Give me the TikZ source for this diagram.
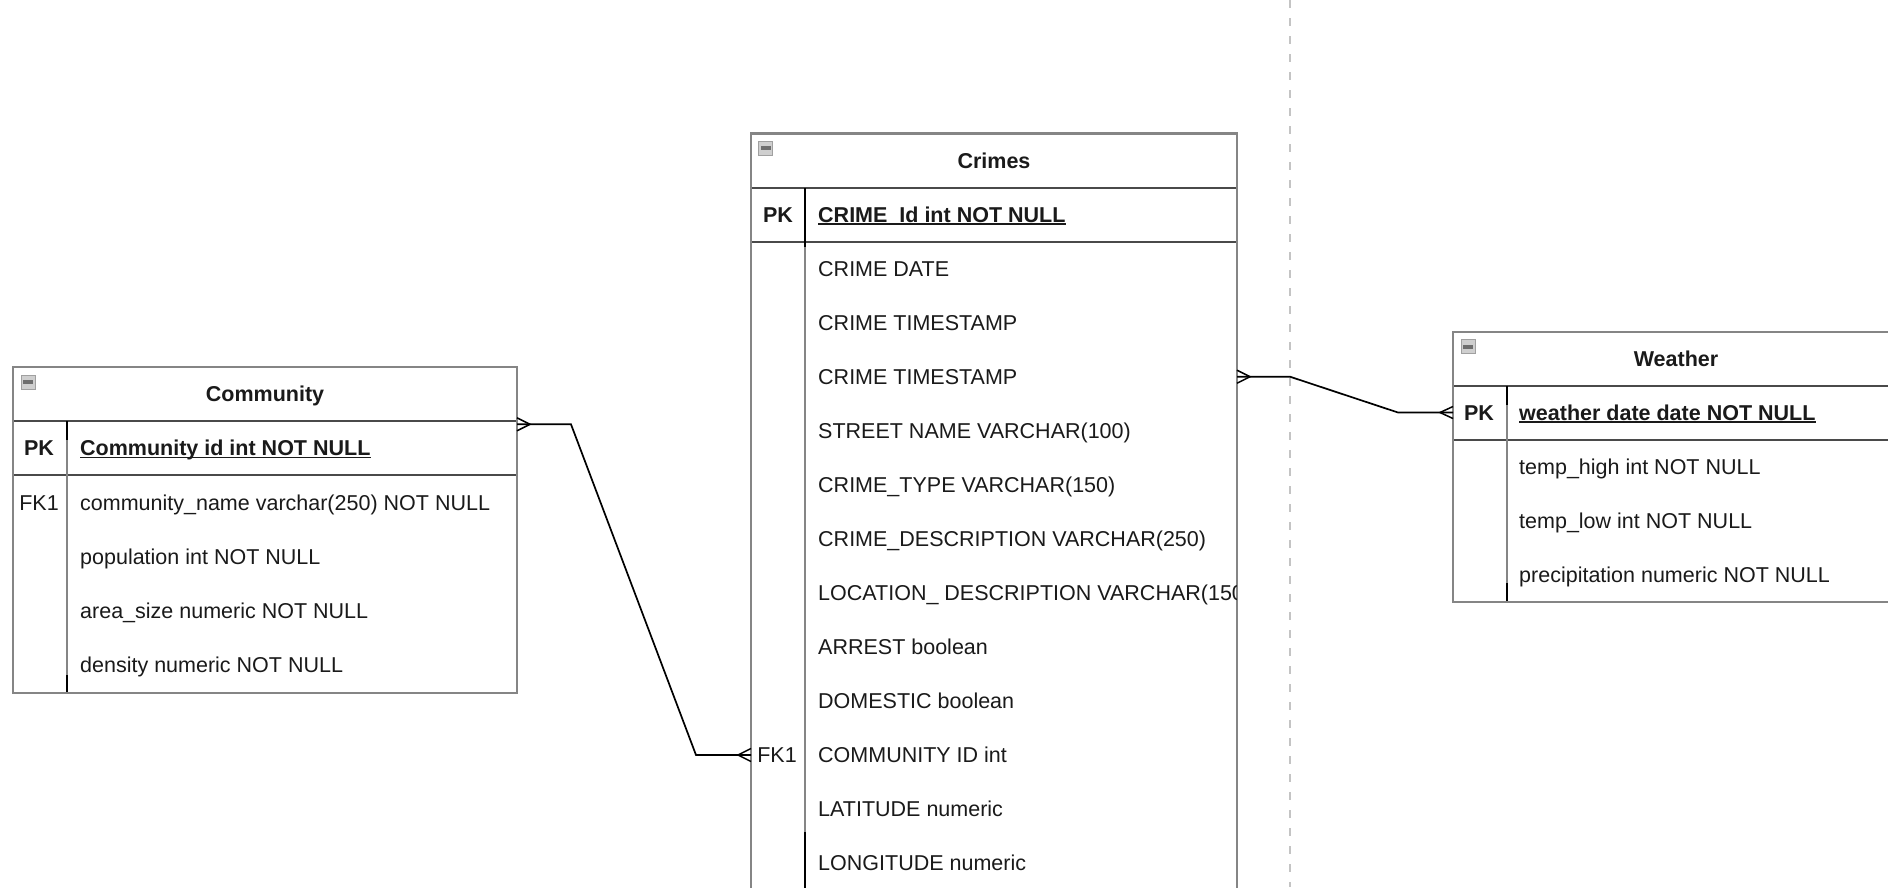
\documentclass[tikz,border=0pt]{standalone}
\usepackage{fontspec}
\setmainfont{Liberation Sans}
\definecolor{bordercol}{HTML}{858585}
\definecolor{linecol}{HTML}{4A4A4A}
\definecolor{txtcol}{HTML}{1A1A1A}
\definecolor{dashcol}{HTML}{C4C4C4}
\definecolor{iconfill}{HTML}{CFCFCF}
\definecolor{iconline}{HTML}{A0A0A0}
\definecolor{iconbar}{HTML}{6E6E6E}
\newcommand\rowfont{\fontsize{21.5}{25.8}\selectfont}
\begin{document}
\begin{tikzpicture}[x=1pt,y=-1pt,
  tblborder/.style={draw=bordercol,line width=2.2},
  tblrule/.style={draw=linecol,line width=2},
  divgray/.style={draw=bordercol,line width=2},
  divblack/.style={draw=black,line width=2},
  rowtxt/.style={inner sep=0,anchor=base west,font=\rowfont,text=txtcol},
  keytxt/.style={inner sep=0,anchor=base,font=\rowfont,text=txtcol},
  keybold/.style={inner sep=0,anchor=base,font=\rowfont\bfseries,text=txtcol},
  pkfield/.style={inner sep=0,anchor=base west,font=\rowfont\bfseries,text=txtcol},
  hdrtxt/.style={inner sep=0,anchor=base,font=\rowfont\bfseries,text=txtcol},
  uline/.style={draw=txtcol,line width=1.5},
  iconbox/.style={draw=iconline,fill=iconfill,line width=1},
  rel/.style={draw=black,line width=1.7,line join=miter},
  foot/.style={draw=black,line width=1.5},
  boundary/.style={draw=dashcol,line width=2.6,dash pattern=on 8pt off 10pt},
]
\useasboundingbox (0,0) rectangle (1888,887);
\clip (0,0) rectangle (1888,887);
\fill[white] (0,0) rectangle (1888,887);

% dashed boundary
\coordinate (dtop) at (1290,0);
\coordinate (dbot) at (1290,887);
\draw[boundary] (dtop) -- (dbot);

% ---------------- Community ----------------
\fill[white] (13,367) rectangle (517,693);
\draw[tblrule] (13,421) -- (517,421);
\draw[tblrule] (13,475) -- (517,475);
\draw[divgray] (67,421) -- (67,693);
\draw[divblack] (67,421) -- (67,440);
\draw[divblack] (67,675) -- (67,693);
\draw[tblborder] (13,367) rectangle (517,693);
\draw[iconbox] (21,375) rectangle ++(14,14);
\fill[iconbar] (23,380) rectangle ++(10,4);
\node[hdrtxt] (commtitle) at (265,401.6) {Community};
\node[keybold] (commpk) at (39,455.6) {PK};
\node[pkfield] (commid) at (80,455.6) {Community id int NOT NULL};
\draw[uline] ([yshift=-1.8pt]commid.base west) -- ([yshift=-1.8pt]commid.base east);
\node[keytxt] (commfk) at (39,510) {FK1};
\node[rowtxt] (comm1) at (80,510) {community\_name varchar(250) NOT NULL};
\node[rowtxt] (comm2) at (80,564) {population int NOT NULL};
\node[rowtxt] (comm3) at (80,618) {area\_size numeric NOT NULL};
\node[rowtxt] (comm4) at (80,672) {density numeric NOT NULL};

% ---------------- Crimes ----------------
\fill[white] (751,133.5) rectangle (1237,900);
\draw[tblrule] (751,188) -- (1237,188);
\draw[tblrule] (751,242) -- (1237,242);
\draw[divgray] (805,188) -- (805,900);
\draw[divblack] (805,188) -- (805,247);
\draw[divblack] (805,832) -- (805,900);
\draw[tblborder] (751,133.5) rectangle (1237,900);
\draw[iconbox] (758.5,141) rectangle ++(14,14);
\fill[iconbar] (760.5,146) rectangle ++(10,4);
\node[hdrtxt] (crimetitle) at (994,168.6) {Crimes};
\node[keybold] (crimepk) at (778,222.2) {PK};
\node[pkfield] (crimeid) at (818,222.2) {CRIME\_Id int NOT NULL};
\draw[uline] ([yshift=-1.8pt]crimeid.base west) -- ([yshift=-1.8pt]crimeid.base east);
\begin{scope}
\clip (752,243) rectangle (1236,887);
\node[rowtxt] (cr1) at (818,276.6) {CRIME DATE};
\node[rowtxt] (cr2) at (818,330.6) {CRIME TIMESTAMP};
\node[rowtxt] (cr3) at (818,384.6) {CRIME TIMESTAMP};
\node[rowtxt] (cr4) at (818,438.6) {STREET NAME VARCHAR(100)};
\node[rowtxt] (cr5) at (818,492.6) {CRIME\_TYPE VARCHAR(150)};
\node[rowtxt] (cr6) at (818,546.6) {CRIME\_DESCRIPTION VARCHAR(250)};
\node[rowtxt] (cr7) at (818,600.6) {LOCATION\_ DESCRIPTION VARCHAR(150)};
\node[rowtxt] (cr8) at (818,654.6) {ARREST boolean};
\node[rowtxt] (cr9) at (818,708.6) {DOMESTIC boolean};
\node[keytxt] (crfk) at (777,762.6) {FK1};
\node[rowtxt] (cr10) at (818,762.6) {COMMUNITY ID int};
\node[rowtxt] (cr11) at (818,816.6) {LATITUDE numeric};
\node[rowtxt] (cr12) at (818,870.6) {LONGITUDE numeric};
\end{scope}

% ---------------- Weather ----------------
\fill[white] (1453,332) rectangle (1899,602);
\draw[tblrule] (1453,386) -- (1899,386);
\draw[tblrule] (1453,439.5) -- (1899,439.5);
\draw[divgray] (1507,386) -- (1507,602);
\draw[divblack] (1507,386) -- (1507,405);
\draw[divblack] (1507,583) -- (1507,602);
\draw[tblborder] (1453,332) rectangle (1899,602);
\draw[iconbox] (1461,339.5) rectangle ++(14,14);
\fill[iconbar] (1463,344.5) rectangle ++(10,4);
\node[hdrtxt] (weathertitle) at (1676,366.3) {Weather};
\node[keybold] (weatherpk) at (1479,420.1) {PK};
\node[pkfield] (weatherid) at (1519,420.1) {weather date date NOT NULL};
\draw[uline] ([yshift=-1.8pt]weatherid.base west) -- ([yshift=-1.8pt]weatherid.base east);
\node[rowtxt] (w1) at (1519,474.1) {temp\_high int NOT NULL};
\node[rowtxt] (w2) at (1519,528.1) {temp\_low int NOT NULL};
\node[rowtxt] (w3) at (1519,582.1) {precipitation numeric NOT NULL};

% ---------------- relationships ----------------
\coordinate (c1a) at (517,424.3);
\coordinate (c1b) at (571,424.3);
\coordinate (c1c) at (696,755);
\coordinate (c1d) at (751,755);
\draw[rel] (c1a) -- (c1b) -- (c1c) -- (c1d);
\draw[foot] (c1a) ++(0,-6.5) -- ++(13,6.5) -- ++(-13,6.5);
\draw[foot] (c1d) ++(0,-6.5) -- ++(-13,6.5) -- ++(13,6.5);

\coordinate (c2a) at (1237,376.7);
\coordinate (c2b) at (1290,376.7);
\coordinate (c2c) at (1398,412.5);
\coordinate (c2d) at (1453,412.5);
\draw[rel] (c2a) -- (c2b) -- (c2c) -- (c2d);
\draw[foot] (c2a) ++(0,-6.5) -- ++(13,6.5) -- ++(-13,6.5);
\draw[foot] (c2d) ++(0,-6) -- ++(-13,6) -- ++(13,6);
\end{tikzpicture}
\end{document}
